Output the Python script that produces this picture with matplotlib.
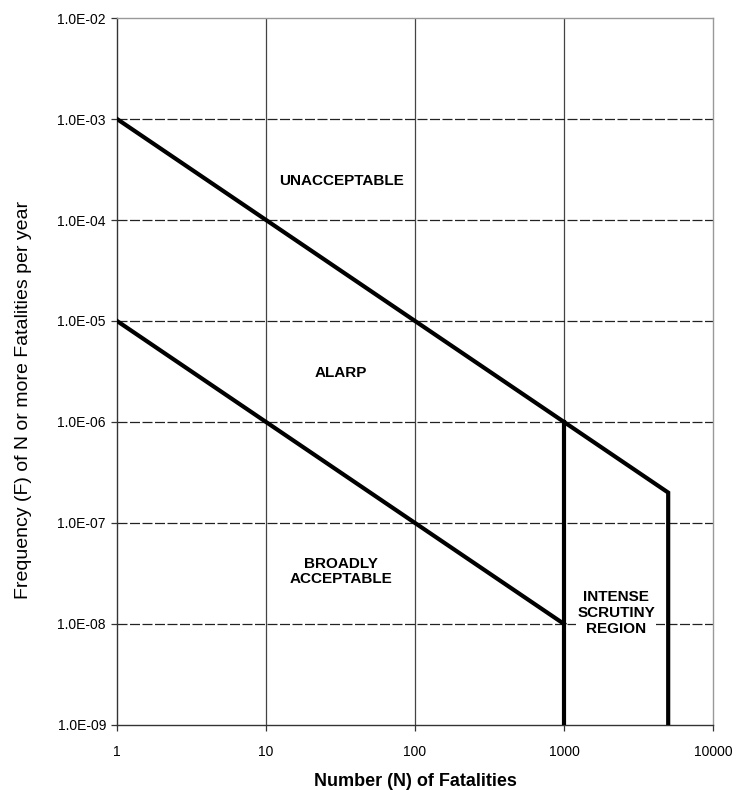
"""F-N criterion chart: societal risk regions."""

import matplotlib
matplotlib.use('Agg')
import matplotlib.pyplot as plt
from matplotlib.ticker import FixedLocator, FixedFormatter, NullLocator

plt.rcParams['font.family'] = ['Liberation Sans', 'DejaVu Sans']

# Upper (unacceptable) criterion line, then drop at N = 5000
upper_n = [1, 1000, 5000, 5000]
upper_f = [1e-3, 1e-6, 2e-7, 1e-9]

# Lower (broadly acceptable) criterion line
lower_n = [1, 1000]
lower_f = [1e-5, 1e-8]

# Vertical boundary at N = 1000
scrutiny_n = [1000, 1000]
scrutiny_f = [1e-6, 1e-9]

x_ticks = [1, 10, 100, 1000, 10000]
x_labels = ['1', '10', '100', '1000', '10000']
y_ticks = [1e-9, 1e-8, 1e-7, 1e-6, 1e-5, 1e-4, 1e-3, 1e-2]
y_labels = ['1.0E-09', '1.0E-08', '1.0E-07', '1.0E-06', '1.0E-05',
            '1.0E-04', '1.0E-03', '1.0E-02']

regions = ['UNACCEPTABLE', 'ALARP', 'BROADLY\nACCEPTABLE', 'INTENSE\nSCRUTINY\nREGION']
region_n = [32, 32, 32, 2234]
region_f = [10**-3.61, 10**-5.51, 10**-7.48, 10**-7.89]

fig = plt.figure(figsize=(7.37, 7.9), dpi=100)
ax = fig.add_axes([0.1588, 0.0823, 0.8087, 0.8949])
ax.set_xscale('log')
ax.set_yscale('log')
ax.set_xlim(1, 10000)
ax.set_ylim(1e-9, 1e-2)

# gridlines
for x in x_ticks[1:-1]:
    ax.axvline(x, color='#444444', lw=0.9, zorder=1)
for y in y_ticks[1:-1]:
    ax.axhline(y, color='#222222', lw=0.9, ls=(0, (8, 2)), zorder=1)

ax.plot(upper_n, upper_f, color='black', lw=3.0, zorder=3, solid_joinstyle='miter')
ax.plot(lower_n, lower_f, color='black', lw=3.0, zorder=3)
ax.plot(scrutiny_n, scrutiny_f, color='black', lw=3.0, zorder=3)

for label, n, f in zip(regions, region_n, region_f):
    bbox = None
    if label.startswith('INTENSE'):
        bbox = dict(facecolor='white', edgecolor='none', pad=1)
    ax.text(n, f, label, ha='center', va='center', fontsize=11,
            fontweight='bold', linespacing=1.15, zorder=4, bbox=bbox)

ax.xaxis.set_major_locator(FixedLocator(x_ticks))
ax.xaxis.set_major_formatter(FixedFormatter(x_labels))
ax.xaxis.set_minor_locator(NullLocator())
ax.yaxis.set_major_locator(FixedLocator(y_ticks))
ax.yaxis.set_major_formatter(FixedFormatter(y_labels))
ax.yaxis.set_minor_locator(NullLocator())
ax.tick_params(axis='both', direction='out', length=4.5, width=0.9,
               color='#333333', labelsize=10)
ax.tick_params(axis='x', pad=10)
ax.tick_params(axis='y', pad=3.5)

for side in ['left', 'bottom']:
    ax.spines[side].set_color('#333333')
    ax.spines[side].set_linewidth(1.0)
for side in ['top', 'right']:
    ax.spines[side].set_color('#999999')
    ax.spines[side].set_linewidth(1.0)

ax.set_xlabel('Number (N) of Fatalities', fontsize=13, fontweight='bold')
ax.xaxis.set_label_coords(0.5, -0.068)
ax.set_ylabel('Frequency (F) of N or more Fatalities per year', fontsize=14)
ax.yaxis.set_label_coords(-0.143, 0.46)

fig.savefig('out.png', dpi=100)
